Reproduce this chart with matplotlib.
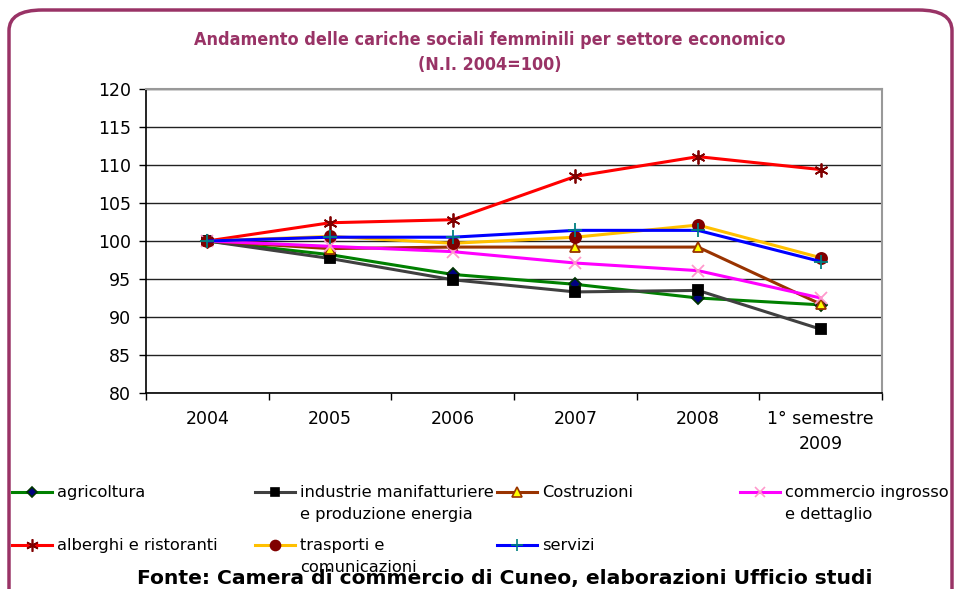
import matplotlib.pyplot as plt
from matplotlib.lines import Line2D
from matplotlib.patches import FancyBboxPatch

# categorie e valori (N.I. 2004=100)
periodi = ['2004', '2005', '2006', '2007', '2008', '1° semestre\n2009']

agricoltura = [100, 98.2, 95.6, 94.3, 92.5, 91.6]
industrie = [100, 97.7, 94.9, 93.3, 93.5, 88.4]
costruzioni = [100, 99.0, 99.2, 99.2, 99.2, 91.7]
commercio = [100, 99.3, 98.6, 97.1, 96.1, 92.5]
alberghi = [100, 102.4, 102.8, 108.5, 111.1, 109.4]
trasporti = [100, 100.6, 99.7, 100.5, 102.1, 97.8]
servizi = [100, 100.5, 100.5, 101.4, 101.4, 97.3]

etichette = ['agricoltura', 'industrie manifatturiere\ne produzione energia', 'Costruzioni',
             'commercio ingrosso\ne dettaglio', 'alberghi e ristoranti', 'trasporti e\ncomunicazioni',
             'servizi']

# stile: (colore linea, marker, colore marker, bordo marker, dimensione)
stili = [
    ('#008000', 'D', '#000080', '#003300', 6),
    ('#404040', 's', '#000000', '#000000', 7),
    ('#993300', '^', '#FFFF00', '#993300', 7.5),
    ('#FF00FF', 'x', '#FF99CC', '#FF99CC', 8),
    ('#FF0000', (6, 2, 0), '#800000', '#800000', 10),
    ('#FFC000', 'o', '#800000', '#800000', 8),
    ('#0000FF', '+', '#008080', '#008080', 10),
]
serie = [agricoltura, industrie, costruzioni, commercio, alberghi, trasporti, servizi]

W, H = 957, 589
fig = plt.figure(figsize=(W / 100, H / 100), dpi=100)
ax = fig.add_axes([146 / W, 1 - 393 / H, (882 - 146) / W, (393 - 89) / H])

x = list(range(len(periodi)))
for valori, (lc, m, mc, me, ms) in zip(serie, stili):
    ax.plot(x, valori, color=lc, lw=2.2, marker=m, markersize=ms,
            markerfacecolor=mc, markeredgecolor=me, markeredgewidth=1.3, clip_on=False)

ax.set_xlim(-0.5, len(periodi) - 0.5)
ax.set_ylim(80, 120)
ax.set_yticks(range(80, 121, 5))
ax.yaxis.grid(True, color='#222222', lw=1)
ax.set_axisbelow(True)
ax.set_xticks(x)
ax.set_xticklabels(periodi, fontsize=12.5, linespacing=1.55)
ax.set_xticks([i + 0.5 for i in range(-1, len(periodi))], minor=True)
ax.tick_params(axis='x', which='major', length=0, pad=12)
ax.tick_params(axis='x', which='minor', length=5, width=1, direction='out')
ax.tick_params(axis='y', labelsize=12.5, length=5, width=1, pad=6)
for s in ['top', 'right']:
    ax.spines[s].set_color('#999999')
    ax.spines[s].set_linewidth(1.5)
for s in ['left', 'bottom']:
    ax.spines[s].set_color('black')
    ax.spines[s].set_linewidth(1.2)

# titolo
for testo, ypx in [('Andamento delle cariche sociali femminili per settore economico', 40),
                   ('(N.I. 2004=100)', 65)]:
    fig.text(490 / W, 1 - ypx / H, testo, ha='center', va='center', fontsize=12.9,
             fontweight='bold', fontstretch='condensed', color='#993366')

# legenda manuale su 4 colonne
col_x = [12, 255, 497, 740]
riga_y = [492, 545]
pos = [(0, 0), (1, 0), (2, 0), (3, 0), (0, 1), (1, 1), (2, 1)]
for (c, r), lab, (lc, m, mc, me, ms) in zip(pos, etichette, stili):
    x0 = col_x[c]
    y0 = 1 - riga_y[r] / H
    fig.add_artist(Line2D([x0 / W, (x0 + 40) / W], [y0, y0], color=lc, lw=2.2,
                          transform=fig.transFigure))
    fig.add_artist(Line2D([(x0 + 20) / W], [y0], marker=m, markersize=ms * 0.9,
                          markerfacecolor=mc, markeredgecolor=me, markeredgewidth=1.2,
                          transform=fig.transFigure))
    fig.text((x0 + 45) / W, y0 + 7 / H, lab, ha='left', va='top', fontsize=11.7,
             linespacing=1.62)

# cornice arrotondata
fig.add_artist(FancyBboxPatch((9 / W, -0.05), 943 / W, 1.05 - 10 / H,
                              boxstyle='round,pad=0,rounding_size=0.035',
                              transform=fig.transFigure, fill=False,
                              edgecolor='#993366', lw=2.5, clip_on=False))

fig.text(505 / W, 1 - 584 / H, 'Fonte: Camera di commercio di Cuneo, elaborazioni Ufficio studi',
         ha='center', va='baseline', fontsize=14.6, fontweight='bold')

fig.savefig('out.png', dpi=100)
